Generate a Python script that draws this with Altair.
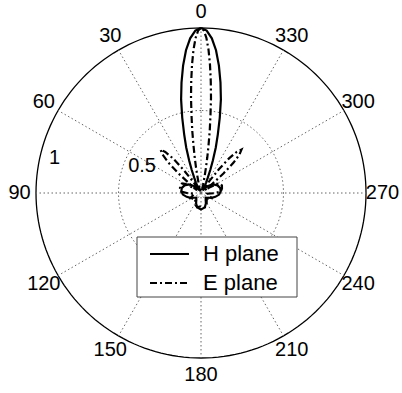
import altair as alt
import pandas as pd

# ---------------- data ----------------
H_ANGLES = [0, 2, 4, 6, 8, 10, 12, 14, 16, 18, 20, 22, 24, 26, 28, 31, 35, 45, 55, 65, 75, 85, 95,
            105, 115, 125, 135, 145, 155, 165, 180, 195, 205, 215, 225, 235, 245, 255, 265, 275,
            285, 295, 305, 315, 325, 329, 332, 334, 336, 338, 340, 342, 344, 346, 348, 350, 352,
            354, 356, 358, 360]
H_R = [1.0, 0.985, 0.94, 0.87, 0.78, 0.68, 0.58, 0.47, 0.37, 0.29, 0.21, 0.15, 0.10, 0.07, 0.045,
       0.02, 0.03, 0.06, 0.09, 0.11, 0.12, 0.12, 0.11, 0.09, 0.07, 0.05, 0.04, 0.05, 0.07, 0.09,
       0.10, 0.09, 0.07, 0.05, 0.04, 0.05, 0.07, 0.09, 0.11, 0.12, 0.12, 0.11, 0.09, 0.06, 0.03,
       0.02, 0.045, 0.07, 0.10, 0.15, 0.21, 0.29, 0.37, 0.47, 0.58, 0.68, 0.78, 0.87, 0.94,
       0.985, 1.0]

E_ANGLES = [0, 1, 2, 3, 4, 5, 6, 7, 8, 9, 10, 11, 12, 13, 14, 15, 17, 20, 24, 28, 32, 35, 37, 39,
            41, 43, 45, 47, 49, 51, 54, 57, 60, 64, 70, 78, 86, 91, 96, 105, 115, 125, 135, 145,
            155, 165, 180, 195, 205, 215, 225, 235, 245, 255, 264, 269, 274, 282, 290, 296, 300,
            303, 306, 309, 311, 313, 315, 317, 319, 321, 323, 325, 328, 332, 336, 340, 343, 345,
            346, 347, 348, 349, 350, 351, 352, 353, 354, 355, 356, 357, 358, 359, 360]
E_R = [1.0, 0.985, 0.94, 0.87, 0.78, 0.68, 0.58, 0.47, 0.38, 0.29, 0.22, 0.16, 0.11, 0.075, 0.05,
       0.03, 0.01, 0.03, 0.05, 0.03, 0.02, 0.09, 0.18, 0.27, 0.33, 0.36, 0.33, 0.27, 0.18, 0.09,
       0.03, 0.06, 0.11, 0.13, 0.135, 0.13, 0.12, 0.08, 0.04, 0.05, 0.07, 0.06, 0.05, 0.06, 0.08,
       0.09, 0.08, 0.09, 0.08, 0.06, 0.05, 0.06, 0.07, 0.05, 0.04, 0.08, 0.12, 0.13, 0.135, 0.13,
       0.11, 0.06, 0.03, 0.09, 0.18, 0.27, 0.33, 0.36, 0.33, 0.27, 0.18, 0.09, 0.02, 0.03, 0.05,
       0.03, 0.01, 0.03, 0.05, 0.075, 0.11, 0.16, 0.22, 0.29, 0.38, 0.47, 0.58, 0.68, 0.78, 0.87,
       0.94, 0.985, 1.0]

TICK_ANGLES = [0, 30, 60, 90, 120, 150, 180, 210, 240, 270, 300, 330]
RINGS = [0.5, 1.0]
RADIAL_LABELS = ["0.5", "1"]
RADIAL_LABEL_R = [0.47, 0.945]
RADIAL_LABEL_ANGLE = [70, 77]
LEGEND_LABELS = ["H plane", "E plane"]

FONT = "Liberation Sans"
PX = 165.0
xs = alt.Scale(domain=[-201 / PX, 201 / PX], nice=False, zero=False)
ys = alt.Scale(domain=[-200 / PX, 193 / PX], nice=False, zero=False)
X = lambda f: alt.X(f, type="quantitative", scale=xs, axis=None)
Y = lambda f: alt.Y(f, type="quantitative", scale=ys, axis=None)

def polar(chart, rname="r", tname="t"):
    return chart.transform_calculate(
        x=f"-datum.{rname}*sin(datum.{tname}*PI/180)",
        y=f"datum.{rname}*cos(datum.{tname}*PI/180)",
    )

# grid rings
ring_layers = []
for rv in RINGS:
    base = alt.Chart(alt.sequence(0, 362, 2, as_="t")).transform_calculate(r=f"{rv}")
    base = polar(base)
    if rv == 1.0:
        m = base.mark_line(color="black", strokeWidth=1.3)
    else:
        m = base.mark_line(color="#666", strokeWidth=1, strokeDash=[1.5, 2.5])
    ring_layers.append(m.encode(x=X("x"), y=Y("y"), order="t:Q"))

spokes_df = pd.DataFrame({"t": TICK_ANGLES})
spokes = alt.Chart(spokes_df).transform_calculate(
    x="0", y="0",
    x2="-sin(datum.t*PI/180)", y2="cos(datum.t*PI/180)"
).mark_rule(color="#666", strokeWidth=1, strokeDash=[1.5, 2.5]).encode(
    x=X("x"), y=Y("y"), x2="x2:Q", y2="y2:Q"
)

h_df = pd.DataFrame({"t": H_ANGLES, "r": H_R, "i": range(len(H_ANGLES))})
e_df = pd.DataFrame({"t": E_ANGLES, "r": E_R, "i": range(len(E_ANGLES))})
h_line = polar(alt.Chart(h_df)).mark_line(color="black", strokeWidth=2.2).encode(
    x=X("x"), y=Y("y"), order="i:Q")
e_line = polar(alt.Chart(e_df)).mark_line(color="black", strokeWidth=2.2, strokeDash=[7, 3, 2, 3]).encode(
    x=X("x"), y=Y("y"), order="i:Q")

tick_labels = polar(alt.Chart(pd.DataFrame({"t": TICK_ANGLES, "lab": [str(a) for a in TICK_ANGLES]}))
                    .transform_calculate(r="1.1")).mark_text(
    font=FONT, fontSize=20, color="black", align="center", baseline="middle"
).encode(x=X("x"), y=Y("y"), text="lab:N")

rad_labels = polar(alt.Chart(pd.DataFrame({"t": RADIAL_LABEL_ANGLE, "r": RADIAL_LABEL_R, "lab": RADIAL_LABELS}))
                   ).mark_text(font=FONT, fontSize=20, color="black", align="left", baseline="middle"
                               ).encode(x=X("x"), y=Y("y"), text="lab:N")

one = pd.DataFrame({"a": [0]})
leg_box = alt.Chart(one).mark_rect(fill="white", stroke="#444", strokeWidth=1).encode(
    x=alt.value(137), x2=alt.value(297), y=alt.value(237), y2=alt.value(297))
leg_h = alt.Chart(one).mark_rule(color="black", strokeWidth=2.2).encode(
    x=alt.value(150), x2=alt.value(189), y=alt.value(254), y2=alt.value(254))
leg_e = alt.Chart(one).mark_rule(color="black", strokeWidth=2.2, strokeDash=[7, 3, 2, 3]).encode(
    x=alt.value(150), x2=alt.value(189), y=alt.value(283), y2=alt.value(283))
leg_t1 = alt.Chart(pd.DataFrame({"lab": [LEGEND_LABELS[0]]})).mark_text(
    font=FONT, fontSize=22, align="left", baseline="middle", color="black").encode(
    x=alt.value(203), y=alt.value(254), text="lab:N")
leg_t2 = alt.Chart(pd.DataFrame({"lab": [LEGEND_LABELS[1]]})).mark_text(
    font=FONT, fontSize=22, align="left", baseline="middle", color="black").encode(
    x=alt.value(203), y=alt.value(283), text="lab:N")

chart = alt.layer(
    *ring_layers, spokes, h_line, e_line, leg_box, leg_h, leg_e, leg_t1, leg_t2,
    tick_labels, rad_labels
).properties(width=402, height=393, padding=0, autosize="none",
             background="white").configure_view(stroke=None)

chart.save("out.html", embed_options={"renderer": "svg", "actions": False})
